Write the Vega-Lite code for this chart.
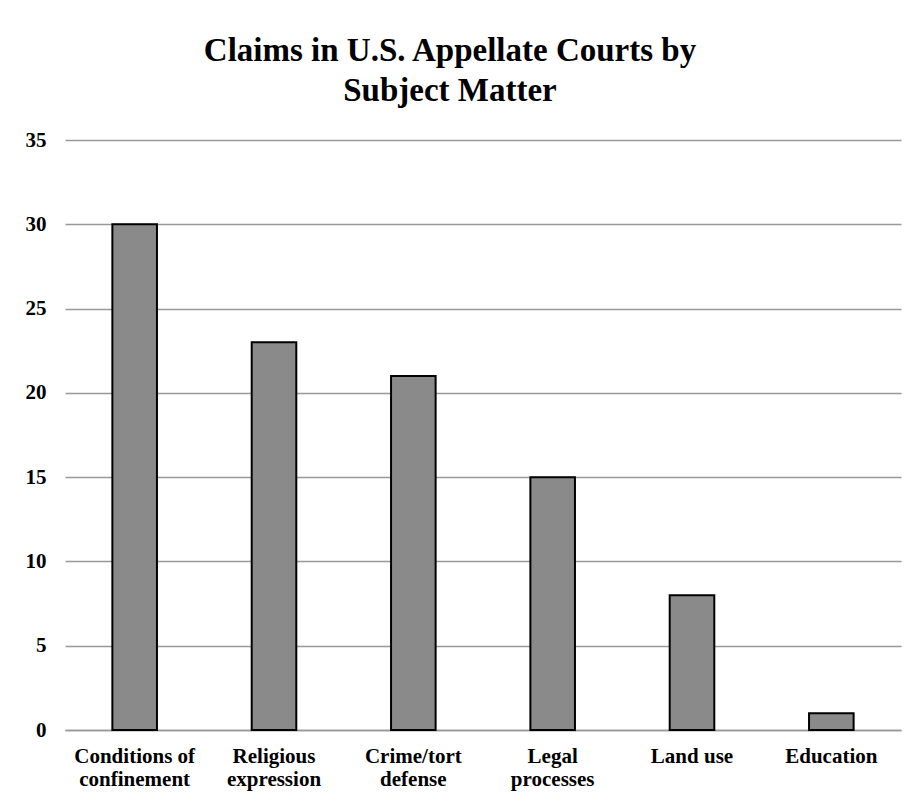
{
  "$schema": "https://vega.github.io/schema/vega-lite/v6.json",
  "width": 836,
  "height": 590,
  "autosize": {"type": "none"},
  "padding": {"left": 65, "top": 140, "right": 20, "bottom": 76},
  "background": "white",
  "title": {
    "text": ["Claims in U.S. Appellate Courts by", "Subject Matter"],
    "font": "Liberation Serif",
    "fontSize": 33,
    "fontWeight": "bold",
    "color": "black",
    "lineHeight": 40,
    "anchor": "middle",
    "dx": -33,
    "offset": 21
  },
  "data": {
    "values": [
      {"subject": "Conditions of confinement", "claims": 30},
      {"subject": "Religious expression", "claims": 23},
      {"subject": "Crime/tort defense", "claims": 21},
      {"subject": "Legal processes", "claims": 15},
      {"subject": "Land use", "claims": 8},
      {"subject": "Education", "claims": 1}
    ]
  },
  "mark": {"type": "bar", "fill": "#8a8a8a", "stroke": "black", "strokeWidth": 2},
  "encoding": {
    "x": {
      "field": "subject",
      "type": "nominal",
      "sort": null,
      "scale": {"paddingInner": 0.68, "paddingOuter": 0.34},
      "axis": {
        "title": null,
        "labelAngle": 0,
        "ticks": false,
        "labelPadding": 15,
        "labelFont": "Liberation Serif",
        "labelFontSize": 21,
        "labelFontWeight": "bold",
        "labelColor": "black",
        "labelLineHeight": 23,
        "labelBaseline": "top",
        "domainColor": "#999999",
        "domainWidth": 1.5,
        "labelExpr": "datum.value == 'Conditions of confinement' ? ['Conditions of', 'confinement'] : datum.value == 'Religious expression' ? ['Religious', 'expression'] : datum.value == 'Crime/tort defense' ? ['Crime/tort', 'defense'] : datum.value == 'Legal processes' ? ['Legal', 'processes'] : datum.value"
      }
    },
    "y": {
      "field": "claims",
      "type": "quantitative",
      "scale": {"domain": [0, 35], "nice": false},
      "axis": {
        "title": null,
        "values": [0, 5, 10, 15, 20, 25, 30, 35],
        "ticks": false,
        "domain": false,
        "labelPadding": 19,
        "labelFont": "Liberation Serif",
        "labelFontSize": 21,
        "labelFontWeight": "bold",
        "labelColor": "black",
        "gridColor": "#999999",
        "gridWidth": 1.5
      }
    }
  },
  "config": {"view": {"stroke": null}}
}
